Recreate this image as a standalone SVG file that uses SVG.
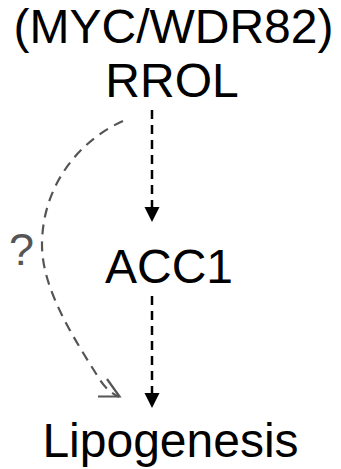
<svg xmlns="http://www.w3.org/2000/svg" width="341" height="469" viewBox="0 0 341 469">
<style>
.lbl{font-family:"Liberation Sans",Arial,sans-serif;font-size:48px;fill:#000;text-anchor:middle}
.q{font-family:"Liberation Sans",Arial,sans-serif;font-size:45px;fill:#555;text-anchor:middle}
.blk{stroke:#000;stroke-width:2.5;stroke-dasharray:9 6;fill:none}
.gry{stroke:#555;stroke-width:2.2;stroke-dasharray:10 7;fill:none}
</style>
<rect width="341" height="469" fill="#fff"/>
<g id="rrol">
<text class="lbl" x="173.5" y="43">(MYC/WDR82)</text>
<text class="lbl" x="172" y="97">RROL</text>
</g>
<g id="acc1"><text class="lbl" x="169" y="283">ACC1</text></g>
<g id="lipogenesis"><text class="lbl" x="170.5" y="457">Lipogenesis</text></g>
<g id="connectors">
<path class="blk" d="M152 110 V207"/>
<polygon points="144.5,207 159.5,207 152,222" fill="#000"/>
<path class="blk" d="M152 296 V393"/>
<polygon points="144.5,393 159.5,393 152,408" fill="#000"/>
<path class="gry" d="M123 121 C80 140 42 185 42 245 C42 290 75 340 100 380 Q108 392 119 397"/>
<polyline points="98,396.5 119.5,396.5 107,379" fill="none" stroke="#555" stroke-width="2.2"/>
<text class="q" x="21.5" y="265">?</text>
</g>
</svg>
